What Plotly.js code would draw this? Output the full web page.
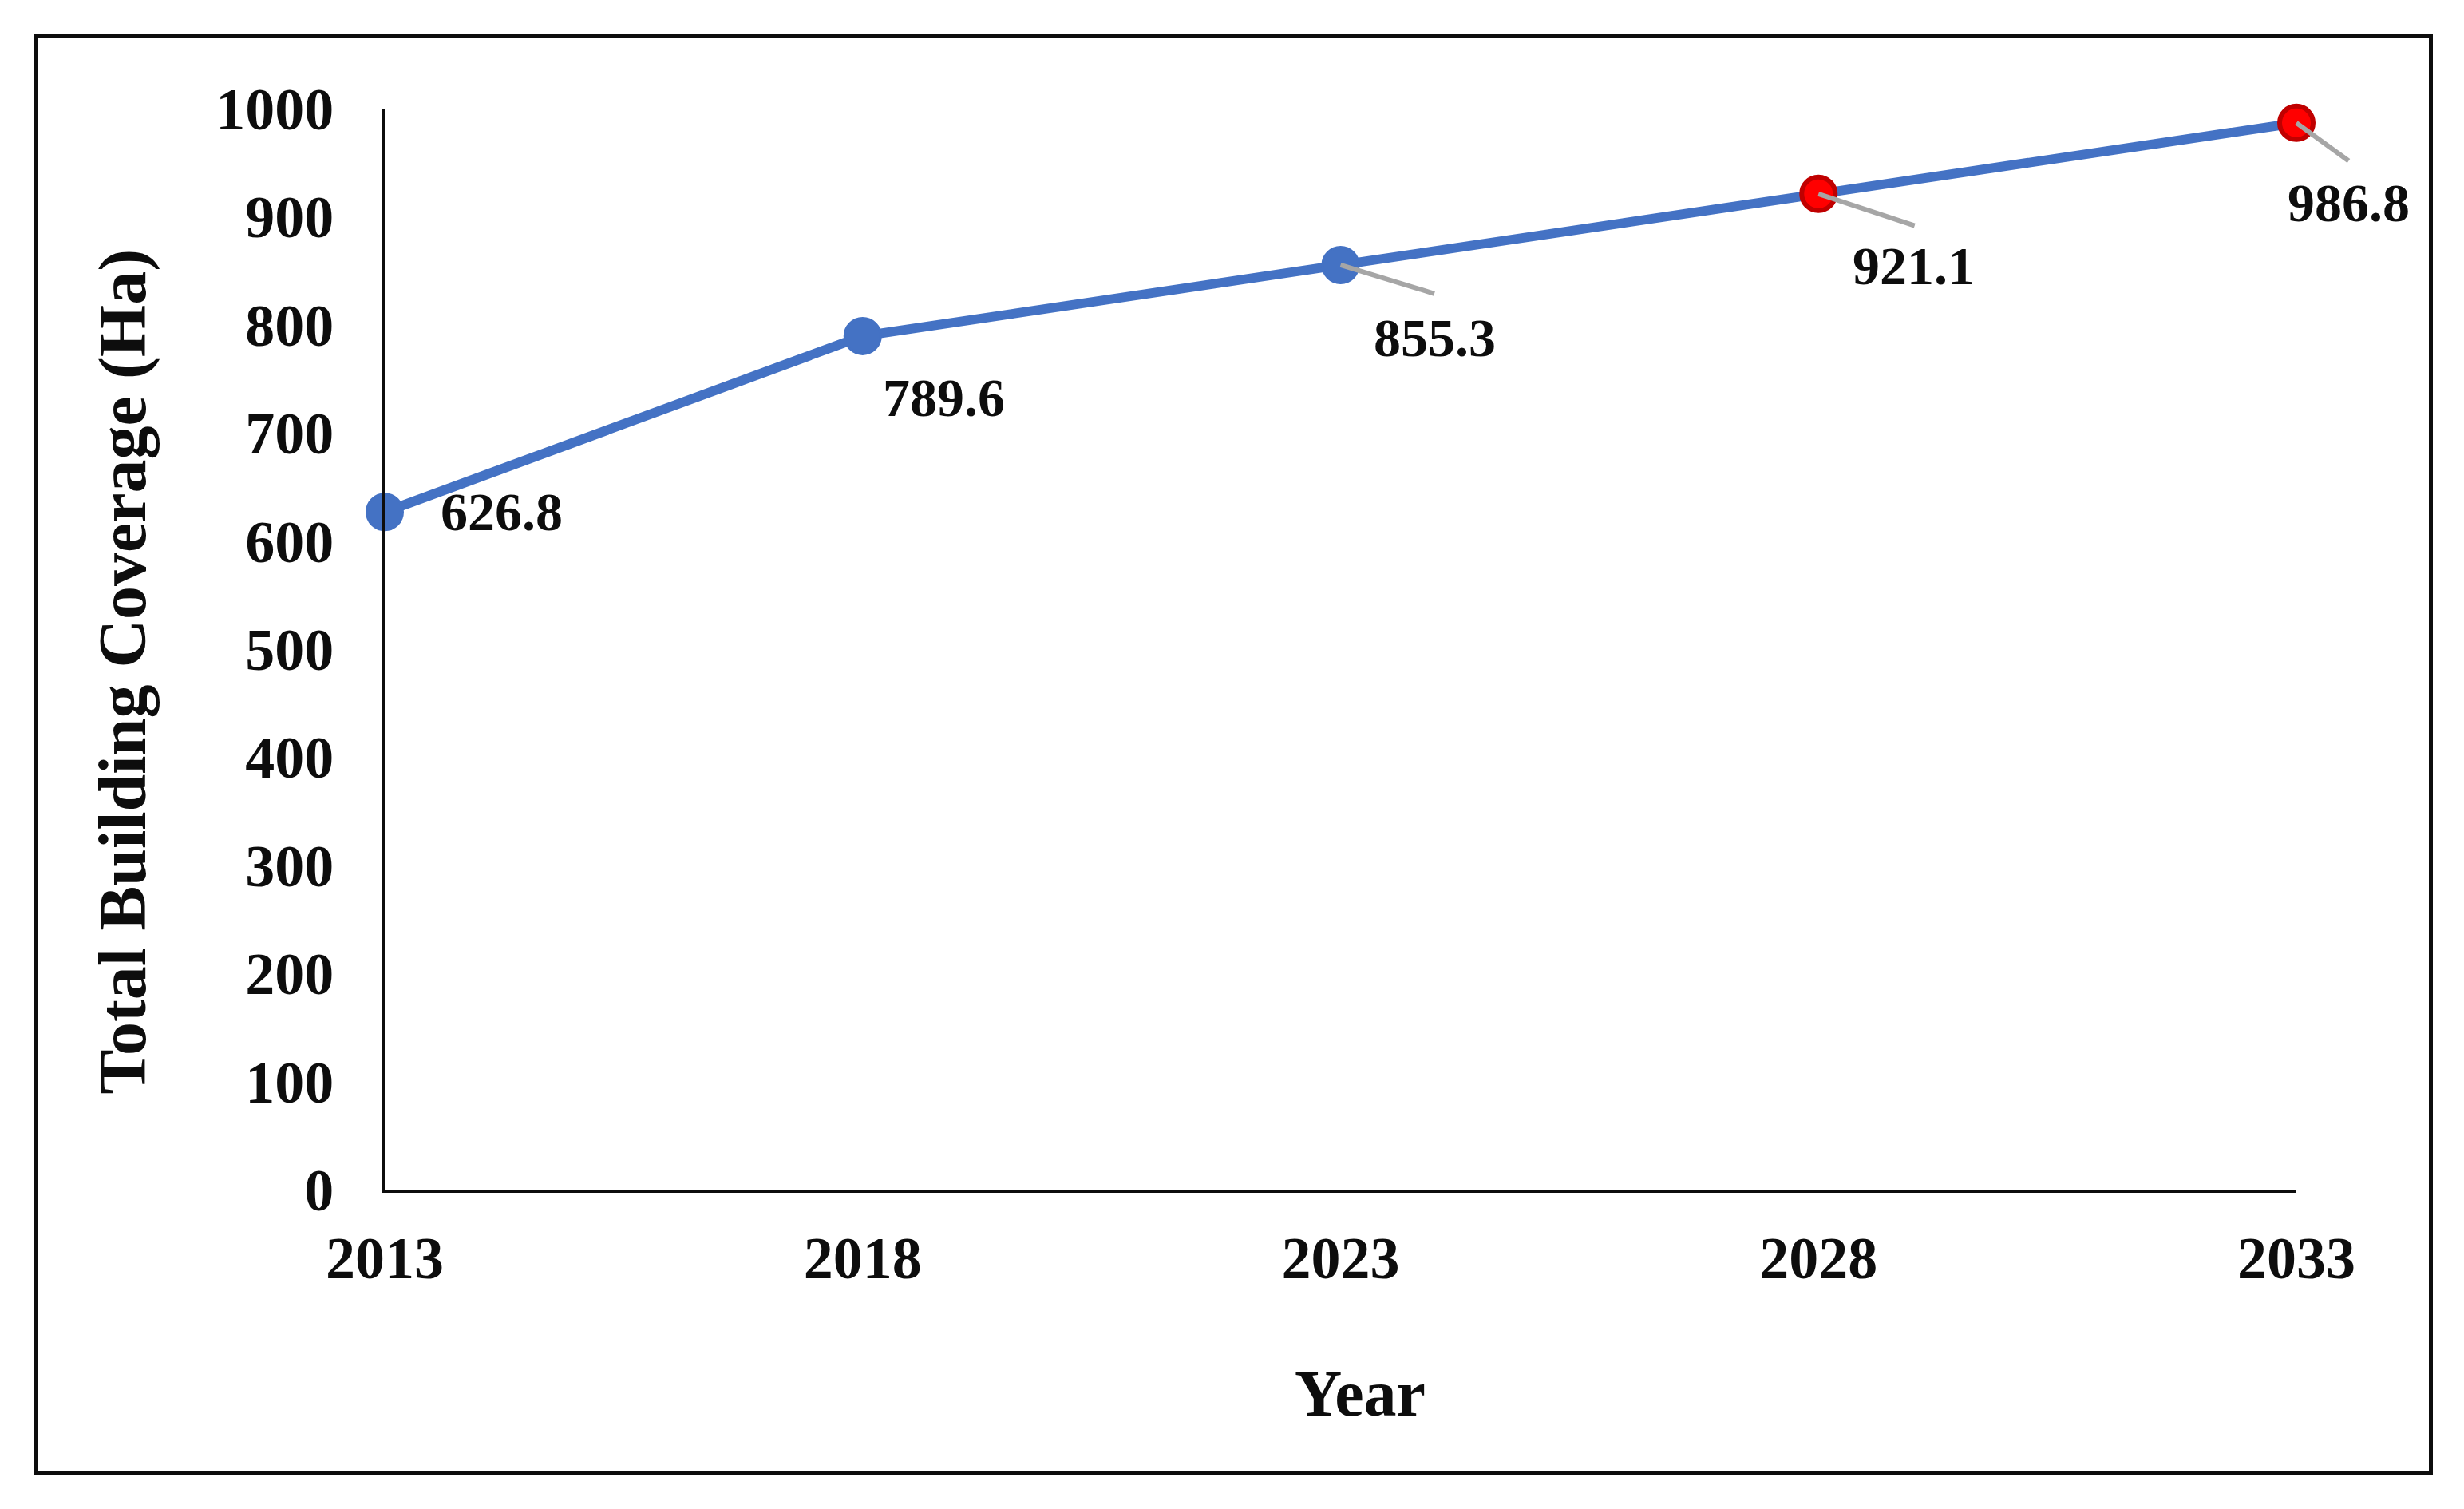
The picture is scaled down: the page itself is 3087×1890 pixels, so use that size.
<!DOCTYPE html>
<html>
<head>
<meta charset="utf-8">
<script src="https://cdn.plot.ly/plotly-3.0.1.min.js"></script>
<style>
  html, body { margin: 0; padding: 0; background: #ffffff; }
  #chart { width: 3087px; height: 1890px; }
  #frame { position: absolute; left: 42px; top: 42px; width: 2996px; height: 1796px;
           border: 5px solid #0d0d0d; pointer-events: none; }
</style>
</head>
<body>
<div id="chart"></div>
<div id="frame"></div>
<script>
// ---- data ----
const years = [2013, 2018, 2023, 2028, 2033];
const coverage = [626.8, 789.6, 855.3, 921.1, 986.8];
const labels = ["626.8", "789.6", "855.3", "921.1", "986.8"];
const projected = [false, false, false, true, true];
const yTicks = [0, 100, 200, 300, 400, 500, 600, 700, 800, 900, 1000];
const xTitle = "Year";
const yTitle = "Total Building Coverage (Ha)";

// ---- styles ----
const FONT = "'Liberation Serif', 'Times New Roman', serif";
const INK = "#0d0d0d";
const BLUE = "#4472c4";
const fillColors = projected.map(p => p ? "#ff0000" : BLUE);
const edgeColors = projected.map(p => p ? "#c00000" : BLUE);
const edgeWidths = projected.map(p => p ? 6 : 3);
const sizes = projected.map(p => p ? 42 : 45);

// label offsets (pixels, right / up) and leader lines (pixels, right / down) per point
const labelShift = [[146, 0], [102, -77], [118, -91], [119, -90], [65, -100]];
const leader = [null, null, [118, 36], [121, 40], [66, 48]];

const trace = {
  x: years, y: coverage, type: "scatter", mode: "lines+markers",
  line: { color: BLUE, width: 12 },
  marker: { size: sizes, opacity: 1, color: fillColors, line: { color: edgeColors, width: edgeWidths } },
  cliponaxis: false, hoverinfo: "skip"
};

const annotations = [];
years.forEach((yr, i) => {
  if (leader[i]) {
    annotations.push({
      x: yr, y: coverage[i], xref: "x", yref: "y", text: "",
      showarrow: true, arrowhead: 0, arrowwidth: 6, arrowcolor: "#a6a6a6",
      ax: leader[i][0], ay: leader[i][1], standoff: 0, borderpad: 0
    });
  }
});
years.forEach((yr, i) => {
  annotations.push({
    x: yr, y: coverage[i], xref: "x", yref: "y", text: labels[i],
    showarrow: false, xshift: labelShift[i][0], yshift: labelShift[i][1],
    font: { family: FONT, size: 68, color: INK, weight: "bold" }
  });
});
// axis titles
annotations.push({
  xref: "paper", yref: "paper", x: 0, y: 0.479, xanchor: "center", yanchor: "middle",
  xshift: -328, textangle: -90, showarrow: false, text: yTitle,
  font: { family: FONT, size: 84, color: INK, weight: "bold" }
});
annotations.push({
  xref: "paper", yref: "paper", x: 0.5, y: 0, xanchor: "center", yanchor: "middle",
  xshift: 24, yshift: -255, showarrow: false, text: xTitle,
  font: { family: FONT, size: 82, color: INK, weight: "bold" }
});

const layout = {
  width: 3087, height: 1890,
  paper_bgcolor: "#ffffff", plot_bgcolor: "#ffffff",
  margin: { l: 482, r: 210, t: 136, b: 400 },
  showlegend: false,
  font: { family: FONT, color: INK },
  xaxis: {
    range: [2013, 2033], tickvals: years, ticktext: years.map(String),
    showgrid: false, zeroline: false, showline: true, linecolor: INK, linewidth: 4,
    ticks: "", ticklabelstandoff: 18,
    tickfont: { family: FONT, size: 74, color: INK, weight: "bold" },
    automargin: false, fixedrange: true
  },
  yaxis: {
    range: [0, 1000], tickvals: yTicks, ticktext: yTicks.map(String),
    showgrid: false, zeroline: false, showline: true, linecolor: INK, linewidth: 4,
    ticks: "", ticklabelstandoff: 45,
    tickfont: { family: FONT, size: 74, color: INK, weight: "bold" },
    automargin: false, fixedrange: true
  },
  annotations: annotations
};

Plotly.newPlot("chart", [trace], layout, { staticPlot: true, displayModeBar: false });
</script>
</body>
</html>
